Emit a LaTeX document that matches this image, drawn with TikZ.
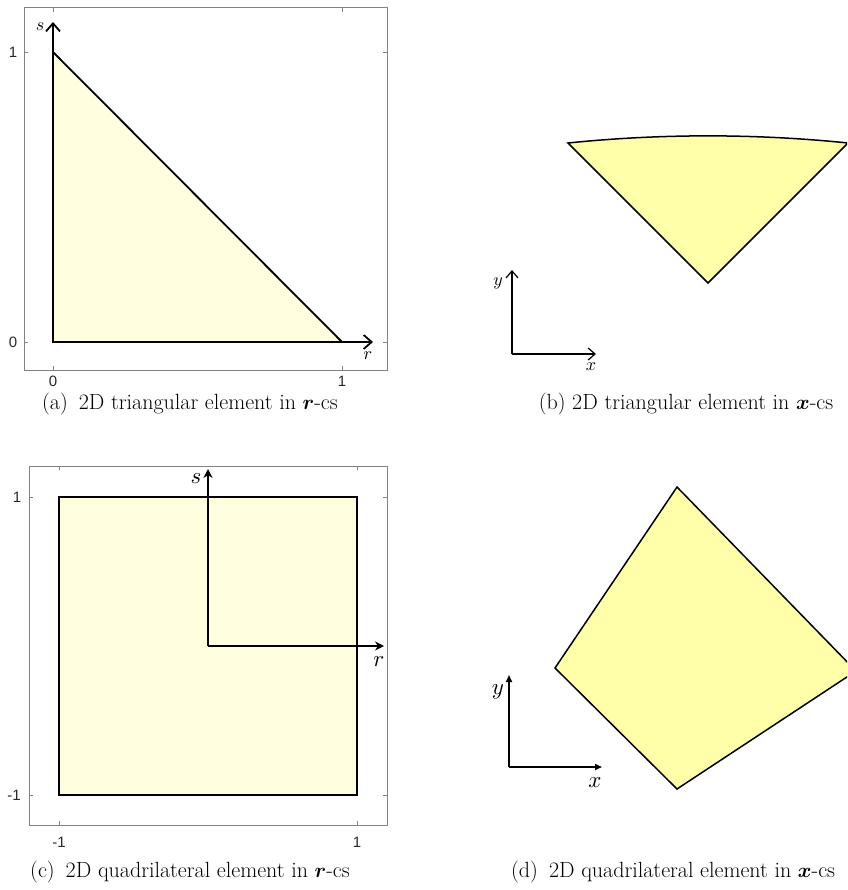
\documentclass[tikz,border=0pt]{standalone}
\usepackage{amsmath}
\usepackage{graphicx}
\usepackage{fontspec}
\usetikzlibrary{arrows.meta}
\newfontfamily\ticksf{Liberation Sans}
\newcommand{\smallvar}[1]{\scalebox{1.8}{$#1$}}
\newcommand{\bigvar}[1]{\scalebox{2.3}{$#1$}}
\definecolor{lyA}{RGB}{255,255,224}
\definecolor{lyB}{RGB}{255,255,170}
\definecolor{frameg}{RGB}{130,130,130}
\definecolor{tickg}{RGB}{40,40,40}
\tikzset{
  frame/.style={draw=frameg, line width=1pt},
  tickm/.style={draw=frameg, line width=0.8pt},
  ticklab/.style={font=\ticksf\fontsize{15}{15}\selectfont, text=tickg, inner sep=0pt},
  elemA/.style={fill=lyA, draw=black, line width=1.8pt},
  elemB/.style={fill=lyB, draw=black, line width=1.5pt},
  axbarb/.style={draw=black, line width=2pt, -{Straight Barb[length=8pt,width=14pt,line width=1.8pt]}},
  axbarbthin/.style={draw=black, line width=1.3pt, -{Straight Barb[length=7pt,width=12pt,line width=1.2pt]}},
  axstealth/.style={draw=black, line width=2pt, -{Stealth[length=9pt,width=9pt,inset=3pt]}},
  axtri/.style={draw=black, line width=1.7pt, -{Triangle[length=7pt,width=6pt]}},
  varlab/.style={inner sep=0pt},
  caption/.style={font=\fontsize{22}{22}\selectfont, inner sep=0pt}
}
\begin{document}
\begin{tikzpicture}[x=1pt,y=-1pt]
\useasboundingbox (0,0) rectangle (847,890);
\clip (0,0) rectangle (847,890);
\fill[white] (0,0) rectangle (847,890);

% ---------------- Panel (a)
\draw[frame] (24,8) rectangle (387,370);
\foreach \t in {53,342}{
  \draw[tickm] (\t,370) -- (\t,366);
  \draw[tickm] (\t,8) -- (\t,12);
}
\foreach \t in {52,342}{
  \draw[tickm] (24,\t) -- (28,\t);
  \draw[tickm] (387,\t) -- (383,\t);
}
\coordinate (aO) at (53,342);
\coordinate (aR) at (342,342);
\coordinate (aS) at (53,52);
\coordinate (aRtip) at (373,342);
\coordinate (aStip) at (53,22);
\draw[elemA] (aO) -- (aR) -- (aS) -- cycle;
\draw[axbarb] (aO) -- (aRtip);
\draw[axbarb] (aO) -- (aStip);
\node[varlab] (aSlab) at (40,27) {\smallvar{s}};
\node[varlab] (aRlab) at (368,356) {\smallvar{r}};
\node[ticklab] (ax0) at (53,381) {0};
\node[ticklab] (ax1) at (342,381) {1};
\node[ticklab] (ay0) at (13,342) {0};
\node[ticklab] (ay1) at (13,52) {1};
\node[caption] (capA) at (190,404) {(a)\enspace 2D triangular element in $\boldsymbol{r}$-cs};

% ---------------- Panel (b)
\coordinate (bL) at (568,143);
\coordinate (bR) at (848,143);
\coordinate (bA) at (708,283);
\draw[elemB] (bL) .. controls (661,133.5) and (755,133.5) .. (bR) -- (bA) -- cycle;
\coordinate (bO) at (512,354);
\coordinate (bX) at (596,354);
\coordinate (bY) at (512,270);
\draw[axbarbthin] (bO) -- (bX);
\draw[axbarbthin] (bO) -- (bY);
\node[varlab] (bYlab) at (498,283) {\smallvar{y}};
\node[varlab] (bXlab) at (591,367) {\smallvar{x}};
\node[caption] (capB) at (686,404) {(b) 2D triangular element in $\boldsymbol{x}$-cs};

% ---------------- Panel (c)
\draw[frame] (29,466) rectangle (387,825);
\foreach \t in {59,357}{
  \draw[tickm] (\t,825) -- (\t,821);
  \draw[tickm] (\t,466) -- (\t,470);
}
\foreach \t in {497,795}{
  \draw[tickm] (29,\t) -- (33,\t);
  \draw[tickm] (387,\t) -- (383,\t);
}
\coordinate (cA) at (59,497);
\coordinate (cB) at (357,497);
\coordinate (cC) at (357,795);
\coordinate (cD) at (59,795);
\draw[elemA] (cA) -- (cB) -- (cC) -- (cD) -- cycle;
\coordinate (cO) at (208,646);
\coordinate (cR) at (384,646);
\coordinate (cS) at (208,469);
\draw[axstealth] (cO) -- (cR);
\draw[axstealth] (cO) -- (cS);
\node[varlab] (cSlab) at (196,479) {\bigvar{s}};
\node[varlab] (cRlab) at (379,662) {\bigvar{r}};
\node[ticklab] (cy1) at (17,497) {1};
\node[ticklab] (cym1) at (14,795) {-1};
\node[ticklab] (cxm1) at (59,842) {-1};
\node[ticklab] (cx1) at (357,842) {1};
\node[caption] (capC) at (190,872) {(c)\enspace 2D quadrilateral element in $\boldsymbol{r}$-cs};

% ---------------- Panel (d)
\coordinate (dT) at (677,487);
\coordinate (dR) at (856,671);
\coordinate (dB) at (677,789);
\coordinate (dL) at (555,668);
\draw[elemB] (dT) -- (dR) -- (dB) -- (dL) -- cycle;
\coordinate (dO) at (509,767);
\coordinate (dX) at (602,767);
\coordinate (dY) at (509,675);
\draw[axtri] (dO) -- (dX);
\draw[axtri] (dO) -- (dY);
\node[varlab] (dYlab) at (498,692) {\bigvar{y}};
\node[varlab] (dXlab) at (595,783) {\bigvar{x}};
\node[caption, anchor=west] (capD) at (511,872) {(d)\enspace 2D quadrilateral element in $\boldsymbol{x}$-cs};
\end{tikzpicture}
\end{document}
